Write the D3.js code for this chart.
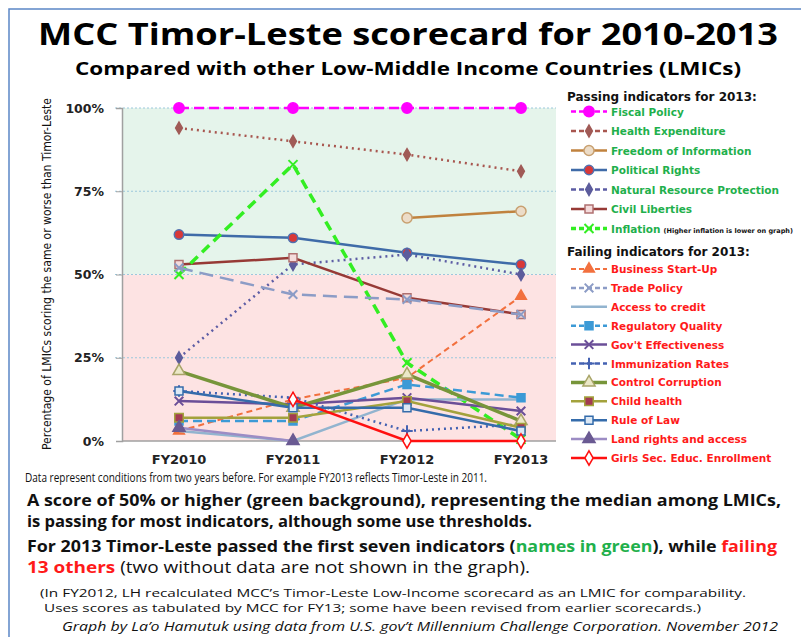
<!DOCTYPE html>
<meta charset="utf-8">
<style>
body { margin: 0; background: #fff; }
svg { display: block; }
</style>
<svg width="801" height="637"></svg>
<script src="https://d3js.org/d3.v7.min.js"></script>
<script>

// ---- data ----
var categories = ["FY2010", "FY2011", "FY2012", "FY2013"];
var yTicks = [0, 25, 50, 75, 100];

var fiscalPolicy = [100, 100, 100, 100];
var healthExpenditure = [94, 90, 86, 81];
var freedomOfInformation = [null, null, 67, 69];
var politicalRights = [62, 61, 56.5, 53];
var naturalResourceProtection = [25, 53, 56, 50];
var civilLiberties = [53, 55, 43, 38];
var inflation = [50, 83, 23.5, 0.5];

var businessStartUp = [3, 12.5, 19, 43.5];
var tradePolicy = [52, 44, 42.5, 38];
var accessToCredit = [3, 0, 12.5, 12.5];
var regulatoryQuality = [6, 6, 17, 13];
var govtEffectiveness = [12, 11, 13, 9];
var immunizationRates = [15, 13, 3, 5];
var controlCorruption = [21, 10, 20, 6];
var childHealth = [7, 7, 12, 4];
var ruleOfLaw = [15, 10, 10, 3];
var landRights = [4, 0, null, null];
var girlsEnrollment = [null, 12.5, 0, 0];

var passingNames = ["Fiscal Policy", "Health Expenditure", "Freedom of Information",
  "Political Rights", "Natural Resource Protection", "Civil Liberties", "Inflation"];
var failingNames = ["Business Start-Up", "Trade Policy", "Access to credit",
  "Regulatory Quality", "Gov't Effectiveness", "Immunization Rates", "Control Corruption",
  "Child health", "Rule of Law", "Land rights and access", "Girls Sec. Educ. Enrollment"];

// line + marker looks, same order as the names
var passingStyles = [
  {c: "#ff00ff", w: 2.5, dash: "10,5", m: "circle", s: 85, fill: "#ff00ff", ms: "#ff00ff"},
  {c: "#a8564f", w: 2.5, dash: "2,4", m: "diamond", s: 40, fill: "#a05a56", ms: "#a05a56"},
  {c: "#c0823e", w: 2.5, dash: null, m: "circle", s: 80, fill: "#ecdcc8", ms: "#c8a070"},
  {c: "#3f6ba8", w: 2.5, dash: null, m: "circle", s: 70, fill: "#d83838", ms: "#5070b0"},
  {c: "#5c5ca4", w: 2.5, dash: "2,4", m: "diamond", s: 40, fill: "#5c5c9c", ms: "#5c5c9c"},
  {c: "#973a36", w: 2.5, dash: null, m: "square", s: 64, fill: "#f4dcdc", ms: "#b07070"},
  {c: "#33ee22", w: 3.5, dash: "10,6", m: "times", s: 55, fill: "none", ms: "#33ee22"}
];
var failingStyles = [
  {c: "#f2703e", w: 2, dash: "6,4", m: "triangle", s: 50, fill: "#f2703e", ms: "#f2703e"},
  {c: "#8c9cc6", w: 2.5, dash: "14,7", m: "times", s: 50, fill: "none", ms: "#8c9cc6"},
  {c: "#92b4cf", w: 2.5, dash: null, m: null},
  {c: "#3c9ad6", w: 2.5, dash: "9,5", m: "square", s: 64, fill: "#3c9ad6", ms: "#3c9ad6"},
  {c: "#6b4f98", w: 2.5, dash: null, m: "times", s: 50, fill: "none", ms: "#6b4f98"},
  {c: "#4462b2", w: 2.5, dash: "2,4", m: "plus", s: 45, fill: "none", ms: "#4462b2"},
  {c: "#77953a", w: 3.5, dash: null, m: "triangle", s: 64, fill: "#ebe8c8", ms: "#a8a468"},
  {c: "#a3a23c", w: 2.5, dash: null, m: "square", s: 72, fill: "#a33a52", ms: "#a3a23c"},
  {c: "#356cab", w: 2.5, dash: null, m: "square", s: 64, fill: "#dde8f4", ms: "#356cab"},
  {c: "#9c8cc4", w: 2.5, dash: null, m: "triangle", s: 64, fill: "#6a5a92", ms: "#6a5a92"},
  {c: "#ff1010", w: 2.5, dash: null, m: "diamond", s: 60, fill: "#fff", ms: "#ff1010"}
];

var passingValues = [fiscalPolicy, healthExpenditure, freedomOfInformation, politicalRights,
  naturalResourceProtection, civilLiberties, inflation];
var failingValues = [businessStartUp, tradePolicy, accessToCredit, regulatoryQuality,
  govtEffectiveness, immunizationRates, controlCorruption, childHealth, ruleOfLaw,
  landRights, girlsEnrollment];

var series = [];
passingNames.forEach(function(n, i) { series.push({name: n, values: passingValues[i], st: passingStyles[i], pass: true}); });
failingNames.forEach(function(n, i) { series.push({name: n, values: failingValues[i], st: failingStyles[i], pass: false}); });

var svg = d3.select("svg");
var body = "'Open Sans', Lato, sans-serif";
var verd = "'DejaVu Sans', Verdana, sans-serif";

// stretch a text to the width it has in the picture
function fit(sel, w) {
  sel.attr("textLength", w).attr("lengthAdjust", "spacingAndGlyphs");
  return sel;
}

// frame
svg.append("rect")
    .attr("x", 9).attr("y", 9).attr("width", 900).attr("height", 700)
    .attr("fill", "none").attr("stroke", "#5b86c6").attr("stroke-width", 1.5);

// titles
fit(svg.append("text").attr("x", 38).attr("y", 45)
    .attr("font-family", body).attr("font-weight", "bold").attr("font-size", 31)
    .text("MCC Timor-Leste scorecard for 2010-2013"), 740);
fit(svg.append("text").attr("x", 75).attr("y", 75)
    .attr("font-family", body).attr("font-weight", "bold").attr("font-size", 18)
    .text("Compared with other Low-Middle Income Countries (LMICs)"), 666);

// scales
var x = d3.scaleBand().domain(categories).range([122, 578]).padding(0),
    y = d3.scaleLinear().domain([0, 100]).range([441, 108]);
function cx(d) { return x(d) + x.bandwidth() / 2; }
var plotRight = 556;

// backgrounds
svg.append("rect").attr("x", 122).attr("y", y(100)).attr("width", plotRight - 122)
    .attr("height", y(50) - y(100)).attr("fill", "#e5f4eb");
svg.append("rect").attr("x", 122).attr("y", y(50)).attr("width", plotRight - 122)
    .attr("height", y(0) - y(50)).attr("fill", "#fde3e3");

// grid
svg.append("g").selectAll("line").data(yTicks.filter(function(t) { return t > 0; }))
  .enter().append("line")
    .attr("x1", 115).attr("x2", plotRight)
    .attr("y1", function(d) { return y(d); }).attr("y2", function(d) { return y(d); })
    .attr("stroke", "#9cc8dc").attr("stroke-width", 1).attr("stroke-dasharray", "2,2");

// axes
var yAxis = svg.append("g").attr("transform", "translate(122,0)")
    .call(d3.axisLeft(y).tickValues(yTicks).tickFormat(function(d) { return d + "%"; }).tickSize(6).tickPadding(12));
yAxis.select(".domain").attr("stroke", "#a0a0a0").attr("stroke-width", 1.5);
yAxis.selectAll(".tick line").attr("stroke", "#a0a0a0");
yAxis.selectAll("text").attr("font-family", verd).attr("font-weight", "bold")
    .attr("font-size", 12.5).attr("fill", "#222");

var xAxis = svg.append("g").attr("transform", "translate(0,441)")
    .call(d3.axisBottom(x).tickSize(0).tickPadding(14));
xAxis.select(".domain").attr("d", "M122,0H" + plotRight).attr("stroke", "#a0a0a0").attr("stroke-width", 1.5);
xAxis.selectAll("text").attr("font-family", verd).attr("font-weight", "bold")
    .attr("font-size", 13).attr("fill", "#222");

// y title
fit(svg.append("text")
    .attr("transform", "translate(51,274) rotate(-90)")
    .attr("text-anchor", "middle")
    .attr("font-family", "'Liberation Sans Narrow', 'DejaVu Sans Condensed', sans-serif")
    .attr("font-size", 13).attr("fill", "#111")
    .text("Percentage of LMICs scoring the same or worse than Timor-Leste"), 352);

// marker helper
var symbolTypes = {circle: d3.symbolCircle, diamond: d3.symbolDiamond, square: d3.symbolSquare,
  triangle: d3.symbolTriangle, times: d3.symbolTimes, plus: d3.symbolPlus};
function marker(g, st, px, py) {
  if (!st.m) return;
  g.append("path")
      .attr("d", d3.symbol().type(symbolTypes[st.m]).size(st.s)())
      .attr("transform", "translate(" + px + "," + py + ")")
      .attr("fill", st.fill).attr("stroke", st.ms)
      .attr("stroke-width", (st.m === "times" || st.m === "plus") ? 2 : 1.5);
}

// lines
var line = d3.line()
    .defined(function(d) { return d.v != null; })
    .x(function(d) { return cx(d.c); })
    .y(function(d) { return y(d.v); });

var lines = svg.append("g");
series.forEach(function(s) {
  var pts = s.values.map(function(v, i) { return {c: categories[i], v: v}; });
  var g = lines.append("g");
  g.append("path").datum(pts).attr("d", line)
      .attr("fill", "none").attr("stroke", s.st.c).attr("stroke-width", s.st.w)
      .attr("stroke-dasharray", s.st.dash);
  pts.forEach(function(p) { if (p.v != null) marker(g, s.st, cx(p.c), y(p.v)); });
});

// legend
var lg = svg.append("g");
lg.append("rect").attr("x", plotRight).attr("y", 84).attr("width", 260).attr("height", 390).attr("fill", "#fff");
lg.append("text").attr("x", 567).attr("y", 101).attr("font-family", verd).attr("font-weight", "bold")
    .attr("font-size", 12).attr("fill", "#111").text("Passing indicators for 2013:");
lg.append("text").attr("x", 567).attr("y", 256).attr("font-family", verd).attr("font-weight", "bold")
    .attr("font-size", 12).attr("fill", "#111").text("Failing indicators for 2013:");

series.forEach(function(s, i) {
  var ry = s.pass ? 111.5 + i * 19.5 : 269 + (i - 7) * 18.9;
  var g = lg.append("g");
  g.append("line").attr("x1", 571).attr("x2", 607).attr("y1", ry).attr("y2", ry)
      .attr("stroke", s.st.c).attr("stroke-width", s.st.w).attr("stroke-dasharray", s.st.dash ? "5,3" : null);
  marker(g, s.st, 589, ry);
  var t = g.append("text").attr("x", 611).attr("y", ry + 4)
      .attr("font-family", verd).attr("font-weight", "bold").attr("font-size", 10.5)
      .attr("fill", s.pass ? "#1fb04c" : "#ff1a1a").text(s.name);
  if (s.name === "Inflation") {
    t.append("tspan").attr("font-size", 6.5).attr("fill", "#111").attr("dx", 3)
        .text("(Higher inflation is lower on graph)");
  }
});

// notes under the chart
fit(svg.append("text").attr("x", 25).attr("y", 482)
    .attr("font-family", body).attr("font-size", 12.5).attr("fill", "#111")
    .text("Data represent conditions from two years before. For example FY2013 reflects Timor-Leste in 2011."), 462);
fit(svg.append("text").attr("x", 27).attr("y", 506)
    .attr("font-family", body).attr("font-weight", "bold").attr("font-size", 16).attr("fill", "#111")
    .text("A score of 50% or higher (green background), representing the median among LMICs,"), 754);
fit(svg.append("text").attr("x", 27).attr("y", 527)
    .attr("font-family", body).attr("font-weight", "bold").attr("font-size", 16).attr("fill", "#111")
    .text("is passing for most indicators, although some use thresholds."), 505);

var l3 = svg.append("text").attr("x", 27).attr("y", 552)
    .attr("font-family", body).attr("font-weight", "bold").attr("font-size", 16).attr("fill", "#111");
l3.append("tspan").text("For 2013 Timor-Leste passed the first seven indicators (");
l3.append("tspan").attr("fill", "#1fb04c").text("names in green");
l3.append("tspan").text("), while ");
l3.append("tspan").attr("fill", "#ff1a1a").text("failing");
fit(l3, 750);

var l4 = svg.append("text").attr("x", 27).attr("y", 573)
    .attr("font-family", body).attr("font-size", 16).attr("fill", "#111");
l4.append("tspan").attr("fill", "#ff1a1a").attr("font-weight", "bold").text("13 others");
l4.append("tspan").text(" (two without data are not shown in the graph).");
fit(l4, 503);

fit(svg.append("text").attr("x", 40).attr("y", 597)
    .attr("font-family", body).attr("font-size", 11.5).attr("fill", "#111")
    .text("(In FY2012, LH recalculated MCC\u2019s Timor-Leste Low-Income scorecard as an LMIC for comparability."), 706);
fit(svg.append("text").attr("x", 44).attr("y", 612)
    .attr("font-family", body).attr("font-size", 11.5).attr("fill", "#111")
    .text("Uses scores as tabulated by MCC for FY13; some have been revised from earlier scorecards.)"), 657);
fit(svg.append("text").attr("x", 62).attr("y", 631)
    .attr("font-family", body).attr("font-style", "italic").attr("font-size", 12).attr("fill", "#111")
    .text("Graph by La\u2019o Hamutuk using data from U.S. gov\u2019t Millennium Challenge Corporation.  November 2012"), 716);

</script>
